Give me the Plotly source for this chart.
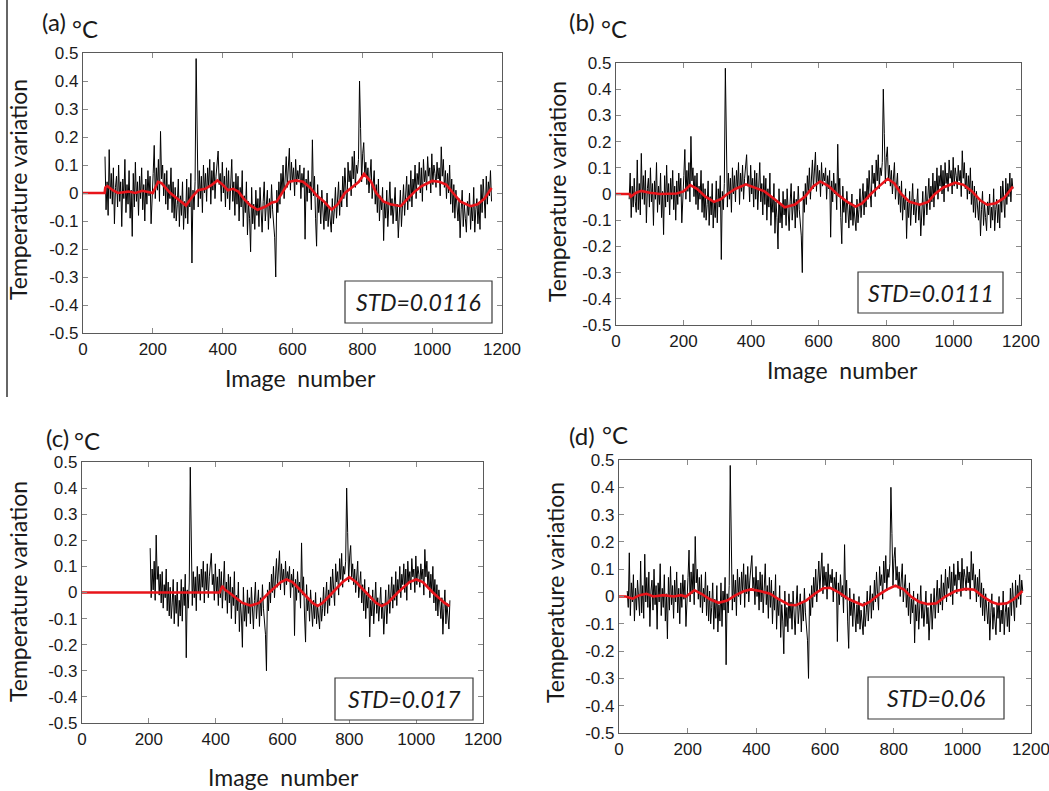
import plotly.graph_objects as go

W, H = 1049, 791

# ---------------- data ----------------
# Raw temperature variation (°C), shared by all four panels, one value every 3 images
image_numbers = list(range(24, 1177, 3))
temp_variation = [
    0.02, -0.04, 0.16, -0.07, 0.05, -0.02, 0.08, -0.09, 0.03, -0.05,        # 24-51
    0.06, -0.03, -0.07, 0.13, -0.06, 0.04, -0.08, 0.155, -0.02, 0.07,       # 54-81
    -0.04, 0.09, -0.11, 0.02, 0.06, -0.05, 0.10, -0.03, 0.04, -0.12,        # 84-111
    0.05, -0.02, 0.12, -0.07, 0.03, -0.04, 0.08, -0.09, 0.01, -0.155,       # 114-141
    0.07, -0.05, 0.11, -0.03, 0.04, -0.08, 0.06, -0.02, 0.09, -0.06,        # 144-171
    0.03, -0.10, 0.05, -0.04, 0.08, -0.01, 0.06, -0.11, 0.02, 0.07,         # 174-201
    0.17, -0.02, 0.09, 0.01, 0.12, -0.03, 0.22, 0.05, 0.10, -0.01,         # 204-231
    0.07, -0.04, 0.08, -0.06, 0.03, -0.02, 0.09, -0.07, 0.04, -0.09,        # 234-261
    0.02, -0.10, -0.04, 0.05, -0.12, -0.01, -0.08, 0.04, -0.13, -0.03,      # 264-291
    -0.09, 0.05, -0.11, 0.02, -0.05, 0.07, -0.25, 0.01, -0.06, 0.04,        # 294-321
    0.48, 0.19, -0.05, 0.08, -0.02, 0.06, -0.07, 0.10, 0.00, 0.07,          # 324-351
    -0.03, 0.09, 0.02, 0.12, -0.04, 0.08, 0.01, 0.11, -0.02, 0.06,          # 354-381
    0.10, 0.15, 0.03, 0.07, -0.03, 0.11, 0.00, 0.06, -0.05, 0.09,           # 384-411
    -0.02, 0.08, -0.06, 0.05, 0.12, -0.03, 0.04, -0.08, 0.07, -0.04,        # 414-441
    0.06, -0.10, 0.02, -0.05, 0.08, -0.12, -0.01, -0.07, 0.04, -0.15,       # 444-471
    -0.03, -0.09, -0.21, 0.02, -0.11, -0.04, -0.13, 0.01, -0.08, -0.02,     # 474-501
    -0.12, 0.02, -0.07, -0.14, -0.03, 0.04, -0.10, -0.05, 0.01, -0.13,      # 504-531
    -0.02, -0.09, 0.03, -0.06, -0.11, -0.16, -0.30, 0.01, -0.07, 0.04,      # 534-561
    -0.04, 0.07, 0.00, 0.10, -0.02, 0.06, 0.13, 0.02, 0.08, 0.16,           # 564-591
    0.01, 0.11, 0.04, 0.09, -0.01, 0.12, 0.03, 0.08, 0.05, 0.10,            # 594-621
    -0.02, 0.07, 0.02, 0.09, -0.165, 0.05, -0.03, 0.08, 0.00, 0.04,         # 624-651
    -0.06, 0.19, -0.01, 0.06, -0.09, -0.19, 0.03, -0.07, -0.02, -0.11,      # 654-681
    0.01, -0.08, -0.13, -0.03, -0.10, 0.00, -0.12, -0.05, -0.09, -0.14,     # 684-711
    -0.02, -0.11, -0.06, 0.02, -0.09, -0.03, 0.04, -0.08, 0.01, -0.05,      # 714-741
    0.06, -0.02, 0.09, 0.01, -0.05, 0.11, 0.04, 0.08, -0.01, 0.13,          # 744-771
    0.05, 0.15, 0.02, 0.10, 0.07, 0.12, 0.40, 0.23, 0.04, 0.14,             # 774-801
    0.18, 0.06, 0.11, 0.03, 0.09, 0.00, 0.07, 0.12, -0.02, 0.05,            # 804-831
    0.08, -0.04, 0.03, -0.07, 0.05, -0.10, -0.01, -0.06, 0.02, -0.17,       # 834-861
    -0.03, -0.09, 0.01, -0.12, -0.05, 0.04, -0.08, -0.02, -0.11, -0.06,     # 864-891
    0.02, -0.10, -0.04, -0.16, -0.07, 0.01, -0.12, -0.03, 0.03, -0.08,      # 894-921
    -0.01, 0.06, -0.06, 0.03, -0.03, 0.08, -0.05, 0.05, 0.00, 0.10,         # 924-951
    -0.02, 0.07, 0.03, 0.11, 0.00, 0.09, -0.03, 0.12, 0.04, 0.08,           # 954-981
    0.01, 0.13, 0.06, 0.09, 0.00, 0.14, 0.03, 0.10, 0.07, 0.02,             # 984-1011
    0.11, 0.05, 0.09, -0.01, 0.165, 0.06, 0.12, 0.02, 0.08, -0.02,          # 1014-1041
    0.07, 0.00, 0.10, -0.04, 0.05, -0.07, 0.03, -0.09, 0.01, -0.05,         # 1044-1071
    -0.10, -0.02, -0.16, -0.06, 0.01, -0.12, -0.04, -0.09, -0.14, -0.03,    # 1074-1101
    -0.08, 0.00, -0.13, -0.05, -0.10, 0.02, -0.14, -0.06, -0.02, -0.11,     # 1104-1131
    -0.04, -0.13, 0.03, -0.07, 0.05, -0.02, -0.09, 0.06, -0.04, 0.04,       # 1134-1161
    -0.01, 0.08, -0.03, 0.06, 0.02,                                         # 1164-1176
]

# image range of the raw data shown in each panel
panel_ranges = {"a": (63, 1170), "b": (39, 1176), "c": (204, 1101), "d": (24, 1176)}

# smoothed (red) curves
trend_a_x = [0, 62, 64, 70, 85, 100, 130, 150, 170, 200, 215, 225, 250, 270, 295, 315, 330, 350,
             370, 385, 400, 415, 430, 445, 460, 480, 500, 520, 540, 555, 570, 590, 610, 630, 650,
             670, 690, 712, 730, 750, 770, 790, 805, 825, 840, 860, 880, 910, 930, 950, 970, 1000,
             1020, 1040, 1060, 1080, 1110, 1130, 1150, 1165, 1170]
trend_a_y = [0, 0, 0.02, 0.025, 0.01, 0.0, 0.005, 0.0, 0.008, 0.0, 0.04, 0.035, 0.0, -0.02, -0.045,
             -0.01, 0.01, 0.015, 0.03, 0.045, 0.03, 0.01, 0.015, 0.005, -0.02, -0.045, -0.06, -0.05,
             -0.035, -0.03, 0.0, 0.04, 0.045, 0.04, 0.02, -0.01, -0.03, -0.06, -0.04, 0.0, 0.02,
             0.04, 0.068, 0.04, 0.0, -0.03, -0.04, -0.047, -0.02, 0.005, 0.025, 0.043, 0.04, 0.03,
             0.0, -0.03, -0.047, -0.04, -0.02, 0.01, 0.018]

trend_b_x = [0, 40, 44, 60, 75, 100, 130, 180, 200, 220, 240, 265, 290, 310, 330, 355, 385, 410,
             440, 470, 500, 530, 560, 585, 605, 630, 655, 685, 710, 730, 755, 780, 805, 825, 845,
             870, 900, 925, 945, 970, 1005, 1030, 1055, 1080, 1100, 1125, 1150, 1176]
trend_b_y = [0, 0, -0.01, 0.005, 0.012, 0.005, 0.0, 0.002, 0.01, 0.034, 0.02, -0.01, -0.03, -0.02,
             0.0, 0.02, 0.037, 0.025, 0.01, -0.02, -0.051, -0.04, -0.01, 0.03, 0.048, 0.03, 0.0,
             -0.03, -0.048, -0.035, 0.0, 0.03, 0.058, 0.04, 0.0, -0.03, -0.041, -0.03, 0.0, 0.025,
             0.043, 0.035, 0.01, -0.025, -0.041, -0.035, -0.015, 0.028]

trend_c_x = [0, 412, 420, 428, 440, 480, 505, 530, 560, 595, 612, 630, 660, 690, 705, 720, 750,
             780, 800, 820, 850, 880, 897, 915, 945, 980, 1000, 1020, 1050, 1085, 1100]
trend_c_y = [0, 0, 0.025, 0.01, 0.0, -0.04, -0.05, -0.04, 0.0, 0.04, 0.05, 0.04, 0.0, -0.04,
             -0.052, -0.04, 0.0, 0.04, 0.059, 0.04, 0.0, -0.04, -0.052, -0.04, 0.0, 0.04, 0.05,
             0.04, 0.0, -0.04, -0.052]

trend_d_x = [0, 20, 40, 60, 80, 100, 130, 160, 180, 195, 220, 240, 265, 290, 315, 340, 365, 385,
             410, 440, 465, 495, 515, 545, 570, 595, 615, 640, 670, 695, 710, 730, 755, 780, 805,
             830, 850, 875, 900, 925, 950, 980, 1010, 1035, 1060, 1085, 1105, 1130, 1150, 1175]
trend_d_y = [0, 0, -0.008, 0.005, 0.01, 0.0, 0.005, 0.0, 0.005, 0.0, 0.023, 0.01, -0.01, -0.023,
             -0.015, 0.005, 0.02, 0.026, 0.02, 0.01, -0.01, -0.03, -0.032, -0.015, 0.01, 0.03,
             0.032, 0.015, -0.01, -0.025, -0.032, -0.02, 0.005, 0.025, 0.04, 0.025, 0.0, -0.02,
             -0.028, -0.025, 0.0, 0.02, 0.028, 0.025, 0.0, -0.02, -0.028, -0.025, -0.01, 0.02]

std_labels = {"a": "STD=0.0116", "b": "STD=0.0111", "c": "STD=0.017", "d": "STD=0.06"}

x_ticks = [0, 200, 400, 600, 800, 1000, 1200]
y_ticks = [-0.5, -0.4, -0.3, -0.2, -0.1, 0, 0.1, 0.2, 0.3, 0.4, 0.5]
y_tick_text = ["-0.5", "-0.4", "-0.3", "-0.2", "-0.1", "0", "0.1", "0.2", "0.3", "0.4", "0.5"]

# ---------------- layout (pixel geometry) ----------------
# plot frames: (left, top, right, bottom) in pixels
frames = {"a": (83, 53, 502, 333), "b": (616, 63, 1021, 325),
          "c": (82, 462, 483, 723), "d": (619, 460, 1031, 733)}
std_boxes = {"a": (345, 281, 492, 323), "b": (858, 272, 1003, 313),
             "c": (335, 678, 473, 720), "d": (868, 677, 1004, 719)}
panel_tags = {"a": ((54, 22), (85, 28)), "b": ((582, 21), (614, 28)),
              "c": ((57, 437), (87, 440)), "d": ((582, 435), (615, 434))}
ytitle_pos = {"a": (18, 190), "b": (557, 192), "c": (18, 592), "d": (555, 593)}
xtitle_pos = {"a": (300, 378), "b": (842, 370), "c": (283, 777)}

trends = {"a": (trend_a_x, trend_a_y), "b": (trend_b_x, trend_b_y),
          "c": (trend_c_x, trend_c_y), "d": (trend_d_x, trend_d_y)}


def px(x):
    return x / W


def py(y):
    return 1 - y / H


LABEL_FONT = "Lato, Carlito, Calibri, sans-serif"
TICK_FONT = "Arial, Liberation Sans, sans-serif"

fig = go.Figure()
layout = dict(width=W, height=H, margin=dict(l=0, r=0, t=0, b=0, autoexpand=False),
              paper_bgcolor="white", plot_bgcolor="white", showlegend=False)
annotations = []
shapes = []

for k, key in enumerate(["a", "b", "c", "d"]):
    n = "" if k == 0 else str(k + 1)
    xa, ya = "x" + n, "y" + n
    lo, hi = panel_ranges[key]
    xs = [x for x in image_numbers if lo <= x <= hi]
    ys = [v for x, v in zip(image_numbers, temp_variation) if lo <= x <= hi]
    fig.add_trace(go.Scatter(x=xs, y=ys, mode="lines", xaxis=xa, yaxis=ya,
                             line=dict(color="#000000", width=1.0)))
    tx, ty = trends[key]
    fig.add_trace(go.Scatter(x=tx, y=ty, mode="lines", xaxis=xa, yaxis=ya,
                             line=dict(color="#e8141a", width=2.6)))
    L, T, R, B = frames[key]
    common = dict(showline=True, mirror="ticks", linecolor="#5a5a5a", linewidth=1.3,
                  ticks="inside", ticklen=5, tickcolor="#8a8a8a", tickwidth=1,
                  showgrid=False, zeroline=False, automargin=False,
                  ticklabeloverflow="allow",
                  tickfont=dict(family=TICK_FONT, size=17, color="#1a1a1a"))
    layout["xaxis" + n] = dict(common, domain=[px(L), px(R)], range=[0, 1200],
                               tickvals=x_ticks, anchor=ya)
    layout["yaxis" + n] = dict(common, domain=[py(B), py(T)], range=[-0.5, 0.5],
                               tickvals=y_ticks, ticktext=y_tick_text, anchor=xa)
    # STD box
    bx0, by0, bx1, by1 = std_boxes[key]
    shapes.append(dict(type="rect", xref="paper", yref="paper",
                       x0=px(bx0), x1=px(bx1), y0=py(by1), y1=py(by0),
                       line=dict(color="#3a3a3a", width=1.2), fillcolor="white"))
    annotations.append(dict(text="<i>" + std_labels[key] + "</i>", xref="paper", yref="paper",
                            x=px((bx0 + bx1) / 2), y=py((by0 + by1) / 2),
                            xanchor="center", yanchor="middle", showarrow=False,
                            font=dict(family=LABEL_FONT, size=23, color="#1a1a1a")))
    # panel tag
    (tx0, ty0), (cx0, cy0) = panel_tags[key]
    annotations.append(dict(text="(" + key + ")", xref="paper", yref="paper",
                            x=px(tx0), y=py(ty0), xanchor="center", yanchor="middle",
                            showarrow=False, font=dict(family=LABEL_FONT, size=24, color="#1a1a1a")))
    annotations.append(dict(text="°C", xref="paper", yref="paper",
                            x=px(cx0), y=py(cy0), xanchor="center", yanchor="middle",
                            showarrow=False, font=dict(family=LABEL_FONT, size=24, color="#1a1a1a")))
    # axis titles
    yx, yy = ytitle_pos[key]
    annotations.append(dict(text="Temperature variation", xref="paper", yref="paper",
                            x=px(yx), y=py(yy), xanchor="center", yanchor="middle",
                            textangle=-90, showarrow=False,
                            font=dict(family=LABEL_FONT, size=23, color="#1a1a1a")))
    if key in xtitle_pos:
        xx, xy = xtitle_pos[key]
        annotations.append(dict(text="Image&nbsp;&nbsp;number", xref="paper", yref="paper",
                                x=px(xx), y=py(xy), xanchor="center", yanchor="middle",
                                showarrow=False,
                                font=dict(family=LABEL_FONT, size=23, color="#1a1a1a")))

# thin vertical rule at the left edge of the top-left panel
shapes.append(dict(type="line", xref="paper", yref="paper", x0=px(7), x1=px(7),
                   y0=py(397), y1=1, line=dict(color="#333333", width=1.5)))

layout["annotations"] = annotations
layout["shapes"] = shapes
fig.update_layout(**layout)
fig.write_html("out.html", config={"displayModeBar": False},
               post_script="document.body.style.margin='0';document.body.style.overflow='hidden';")
